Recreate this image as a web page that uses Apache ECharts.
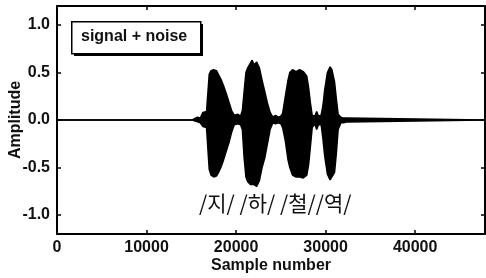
<!DOCTYPE html>
<html>
<head>
<meta charset="utf-8">
<script src="https://cdn.jsdelivr.net/npm/echarts@6/dist/echarts.min.js"></script>
<style>
  html, body { margin: 0; padding: 0; background: #fff; }
  #chart { width: 486px; height: 278px; }
</style>
</head>
<body>
<div id="chart"></div>
<script>
// envelope of the waveform (sample number, upper, lower)
const sampleNo = [0, 15100, 15300, 15700, 16000, 16200, 16300, 16700, 16900, 17000,
  17200, 17500, 17800, 18000, 18300, 18600, 18900, 19200, 19500, 19800,
  20000, 20200, 20500, 20700, 20900, 21100, 21300, 21600, 21800, 22000,
  22300, 22600, 22900, 23200, 23500, 23800, 24100, 24400, 24700, 25000,
  25200, 25500, 25800, 26000, 26300, 26700, 27100, 27500, 27900, 28100,
  28300, 28500, 28800, 29000, 29200, 29500, 29700, 29900, 30200, 30500,
  30700, 31000, 31200, 31400, 31700, 32000, 32400, 32600, 47800];
const upperEnv = [0, 0, 0.02, 0.03, 0.02, 0.03, 0.08, 0.09, 0.1, 0.48,
  0.52, 0.53, 0.52, 0.5, 0.43, 0.36, 0.28, 0.19, 0.1, 0.05,
  0.04, 0.06, 0.04, 0.1, 0.3, 0.5, 0.55, 0.6, 0.63, 0.58,
  0.61, 0.55, 0.42, 0.3, 0.18, 0.08, 0.03, 0.05, 0.03, 0.04,
  0.07, 0.25, 0.42, 0.5, 0.53, 0.51, 0.53, 0.51, 0.46, 0.34,
  0.18, 0.05, 0.04, 0.09, 0.04, 0.05, 0.15, 0.32, 0.5, 0.56,
  0.53, 0.4, 0.22, 0.06, 0.03, 0.02, 0.02, 0, 0];
const lowerEnv = [0, 0, -0.02, -0.02, -0.03, -0.03, -0.07, -0.08, -0.1, -0.52,
  -0.58, -0.6, -0.59, -0.56, -0.5, -0.42, -0.33, -0.24, -0.13, -0.05,
  -0.06, -0.04, -0.05, -0.1, -0.4, -0.6, -0.65, -0.68, -0.7, -0.68,
  -0.7, -0.64, -0.5, -0.4, -0.25, -0.1, -0.03, -0.04, -0.03, -0.04,
  -0.08, -0.22, -0.42, -0.5, -0.58, -0.6, -0.6, -0.61, -0.58, -0.47,
  -0.28, -0.08, -0.04, -0.1, -0.05, -0.05, -0.2, -0.38, -0.57, -0.63,
  -0.62, -0.55, -0.35, -0.1, -0.03, -0.03, -0.02, 0, 0];

const xTicks = [0, 10000, 20000, 30000, 40000];
const yTicks = [-1.0, -0.5, 0.0, 0.5, 1.0];
const syllables = "/지/ /하/ /철//역/";

const chart = echarts.init(document.getElementById("chart"));
const txt = { fontFamily: "Liberation Sans", fontWeight: "bold", fontSize: 16, color: "#111" };
const axLine = { onZero: false, lineStyle: { color: "#000", width: 2 } };
const tick = (vals) => ({ inside: true, length: 4, customValues: vals, lineStyle: { width: 1.5, color: "#000" } });

chart.setOption({
  animation: false,
  graphic: [
    // boxed legend with drop shadow
    { type: "rect", left: 74, top: 24, shape: { width: 129, height: 32 }, style: { fill: "#000" } },
    { type: "rect", left: 71, top: 21, shape: { width: 129, height: 32 }, style: { fill: "#fff", stroke: "#000", lineWidth: 1.5 } },
    {
      type: "text", left: 81, top: 29,
      style: { text: "signal + noise", font: "bold 16px 'Liberation Sans'", fill: "#111" }
    },
    {
      type: "text", left: 199, top: 193,
      style: { text: syllables, font: "21px 'Noto Sans CJK KR'", fill: "#111" }
    }
  ],
  grid: { left: 57, right: 1, top: 6, bottom: 44, outerBoundsMode: "none" },
  xAxis: [{
    type: "value",
    min: 0,
    max: 47800,
    name: "Sample number",
    nameLocation: "middle",
    nameGap: 24,
    nameMoveOverlap: false,
    nameTextStyle: txt,
    axisLine: axLine,
    axisTick: tick(xTicks),
    axisLabel: Object.assign({ margin: 6, customValues: xTicks, formatter: v => String(v) }, txt),
    splitLine: { show: false }
  }, {
    type: "value",
    position: "top",
    min: 0,
    max: 47800,
    axisLine: axLine,
    axisTick: tick(xTicks),
    axisLabel: { show: false },
    splitLine: { show: false }
  }],
  yAxis: [{
    type: "value",
    min: -1.2,
    max: 1.2,
    name: "Amplitude",
    nameLocation: "middle",
    nameGap: 33,
    nameMoveOverlap: false,
    nameTextStyle: txt,
    axisLine: axLine,
    axisTick: tick(yTicks),
    axisLabel: Object.assign({
      margin: 7,
      customValues: yTicks,
      formatter: v => v.toFixed(1)
    }, txt),
    splitLine: { show: false }
  }, {
    type: "value",
    position: "right",
    min: -1.2,
    max: 1.2,
    axisLine: axLine,
    axisTick: tick(yTicks),
    axisLabel: { show: false },
    splitLine: { show: false }
  }],
  series: [{
    type: "line",
    data: sampleNo.map((s, i) => [s, upperEnv[i]]),
    symbol: "none",
    lineStyle: { color: "#000", width: 1.5 },
    areaStyle: { color: "#000", opacity: 1, origin: 0 }
  }, {
    type: "line",
    data: sampleNo.map((s, i) => [s, lowerEnv[i]]),
    symbol: "none",
    lineStyle: { color: "#000", width: 1.5 },
    areaStyle: { color: "#000", opacity: 1, origin: 0 }
  }]
});
</script>
</body>
</html>
